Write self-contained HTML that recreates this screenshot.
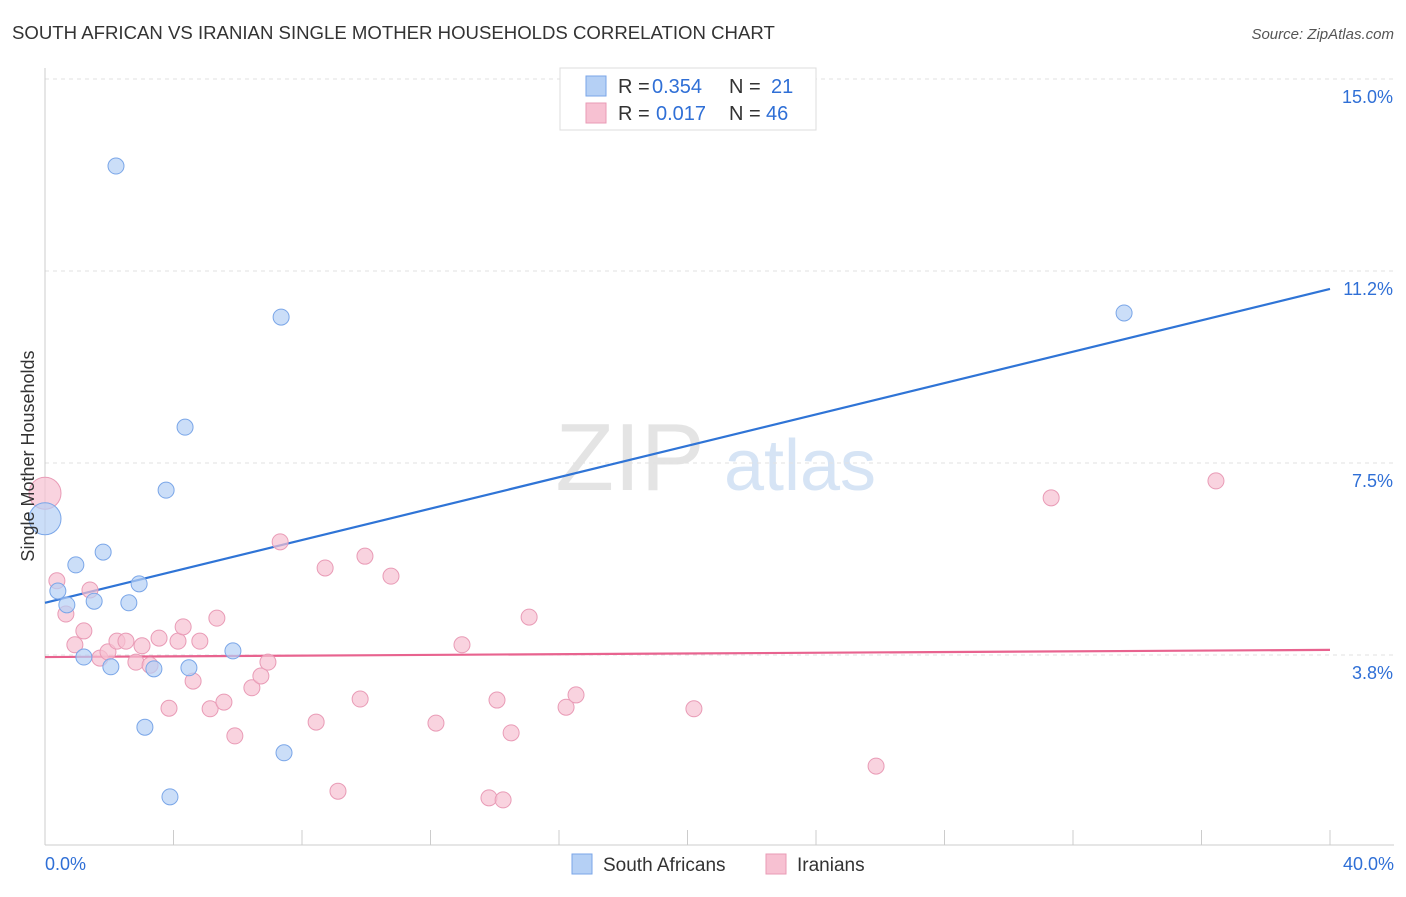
<!DOCTYPE html>
<html><head><meta charset="utf-8"><style>
body{margin:0;background:#fff;font-family:"Liberation Sans",sans-serif;}
svg text{font-family:"Liberation Sans",sans-serif;}
</style></head><body>
<svg id="chart" width="1406" height="892">
<text x="12" y="39" font-size="18.6" fill="#333">SOUTH AFRICAN VS IRANIAN SINGLE MOTHER HOUSEHOLDS CORRELATION CHART</text>
<text x="1394" y="39" font-size="15" fill="#555" text-anchor="end" font-style="italic">Source: ZipAtlas.com</text>
<text x="630" y="490" font-size="96" fill="#e4e4e4" font-family="Liberation Serif" text-anchor="middle">ZIP</text>
<text x="800" y="490" font-size="72" fill="#d6e4f5" text-anchor="middle">atlas</text>
<g id="grid"></g><g id="axes"></g><g id="trends"></g><g id="pts"></g>
<text x="34" y="456" font-size="18" fill="#333" text-anchor="middle" transform="rotate(-90 34 456)">Single Mother Households</text>
<g>
<rect x="560" y="68" width="256" height="62" fill="#fff" stroke="#ddd"/>
<rect x="586" y="76" width="20" height="20" fill="#b5d0f5" stroke="#7aa6e8"/>
<text x="618" y="93" font-size="20" fill="#333">R =</text>
<text x="652" y="93" font-size="20" fill="#2f6fd6">0.354</text>
<text x="729" y="93" font-size="20" fill="#333">N =</text>
<text x="771" y="93" font-size="20" fill="#2f6fd6">21</text>
<rect x="586" y="103" width="20" height="20" fill="#f7c1d2" stroke="#e99bb6"/>
<text x="618" y="120" font-size="20" fill="#333">R =</text>
<text x="656" y="120" font-size="20" fill="#2f6fd6">0.017</text>
<text x="729" y="120" font-size="20" fill="#333">N =</text>
<text x="766" y="120" font-size="20" fill="#2f6fd6">46</text>
</g>
<g>
<rect x="572" y="854" width="20" height="20" fill="#b5d0f5" stroke="#7aa6e8"/>
<text x="603" y="871" font-size="19" fill="#333">South Africans</text>
<rect x="766" y="854" width="20" height="20" fill="#f7c1d2" stroke="#e99bb6"/>
<text x="797" y="871" font-size="19" fill="#333">Iranians</text>
</g>
</svg>
<script>
const yTicks=[3.8,7.5,11.2,15.0];
const yTickVals=[3.75,7.5,11.25,15];
const xLabels=["0.0%","40.0%"];
const blueX=[2.21,7.35,4.36,3.77,0,1.81,0.96,2.93,0.40,0.68,1.53,2.61,1.21,2.05,3.39,4.48,5.85,3.11,7.44,3.89,33.59];
const blueY=[13.30,10.35,8.20,6.97,6.41,5.76,5.51,5.14,5.00,4.73,4.80,4.77,3.71,3.52,3.48,3.50,3.83,2.34,1.84,0.98,10.43];
const pinkX=[0,0.37,1.40,0.65,1.21,0.93,1.71,1.96,2.24,2.52,2.83,3.02,3.27,3.55,4.14,4.30,4.82,5.35,4.61,3.86,5.14,5.57,5.91,6.44,6.72,6.94,7.32,8.44,8.72,9.12,9.81,9.96,10.77,12.17,12.98,13.82,14.07,14.26,14.51,15.07,16.22,16.53,20.20,25.87,31.32,36.45];
const pinkY=[6.91,5.20,5.02,4.55,4.22,3.95,3.69,3.81,4.02,4.02,3.61,3.93,3.55,4.08,4.02,4.30,4.02,4.47,3.24,2.71,2.70,2.83,2.17,3.11,3.34,3.61,5.96,2.44,5.45,1.09,2.89,5.68,5.29,2.42,3.95,0.96,2.87,0.92,2.23,4.49,2.73,2.97,2.70,1.58,6.82,7.15];
const blueTrend=[4.77,10.90];
const pinkTrend=[3.71,3.85];
const NS="http://www.w3.org/2000/svg";
const X=v=>45+v*32.125, Y=v=>655-(v-3.75)*51.2;
function mk(tag,attrs,parent){const e=document.createElementNS(NS,tag);for(const k in attrs)e.setAttribute(k,attrs[k]);document.getElementById(parent).appendChild(e);return e;}
yTickVals.forEach((v,i)=>{
 const l=mk('line',{x1:45,x2:1394,y1:Y(v),y2:Y(v),stroke:'#e2e2e2','stroke-dasharray':'4,4'},'grid');
 
 
 const t=mk('text',{x:1393,y:Y(v)+24,'font-size':18,fill:'#2f6fd6','text-anchor':'end'},'grid');
 t.textContent=yTicks[i].toFixed(1)+'%';
 
 
});
const ax=mk('line',{x1:45,x2:45,y1:68,y2:845,stroke:'#ccc'},'axes');


const bx=mk('line',{x1:45,x2:1394,y1:845,y2:845,stroke:'#ccc'},'axes');


for(let v=0;v<=40;v+=4){const t=mk('line',{x1:X(v),x2:X(v),y1:830,y2:845,stroke:'#ccc'},'axes');
 
 }
[[0,'start',45],[40,'end',1394]].forEach((d,i)=>{const t=mk('text',{x:d[2],y:870,'font-size':18,fill:'#2f6fd6','text-anchor':d[1]},'axes');t.textContent=xLabels[i];
 
 });
function pts(xs,ys,fill,stroke,name){xs.forEach((x,i)=>{const r=(x===0)?16:8;
 const c=mk('circle',{cx:X(x),cy:Y(ys[i]),r:r,fill:fill,'fill-opacity':0.7,stroke:stroke,'stroke-width':1},'pts');
 
 });}
pts(pinkX,pinkY,'#f7c1d2','#e99bb6','iranian-point');
pts(blueX,blueY,'#b5d0f5','#7aa6e8','south-african-point');
const t1=mk('line',{x1:X(0),x2:X(40),y1:Y(blueTrend[0]),y2:Y(blueTrend[1]),stroke:'#2f74d6','stroke-width':2.2},'trends');


const t2=mk('line',{x1:X(0),x2:X(40),y1:Y(pinkTrend[0]),y2:Y(pinkTrend[1]),stroke:'#e8638f','stroke-width':2.2},'trends');


</script>
</body></html>
